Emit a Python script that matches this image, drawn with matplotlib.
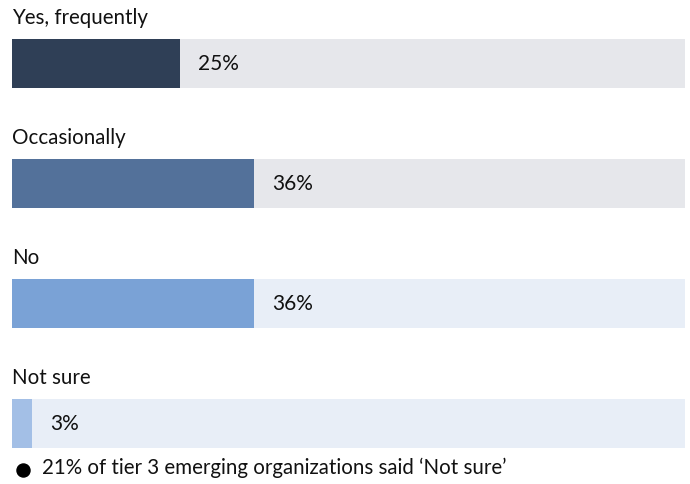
import matplotlib.pyplot as plt

plt.rcParams['font.family'] = ['Lato', 'DejaVu Sans']

categories = ['Yes, frequently', 'Occasionally', 'No', 'Not sure']
values = [25, 36, 36, 3]
value_labels = ['25%', '36%', '36%', '3%']
note = '21% of tier 3 emerging organizations said \u2018Not sure\u2019'

bar_colors = ['#2f3f56', '#53719a', '#7aa2d6', '#a3bfe6']
track_colors = ['#e6e7eb', '#e6e7eb', '#e8eef7', '#e8eef7']

W, H = 690, 484
fig = plt.figure(figsize=(W / 100, H / 100), dpi=100)
# axes spans the bar area horizontally, full height vertically (y in pixels)
ax = fig.add_axes([12 / W, 0, (685 - 12) / W, 1])
ax.set_xlim(0, 100)
ax.set_ylim(H, 0)
ax.axis('off')

centers = [63.5, 183.5, 303.5, 423.5]
bar_h = 49

for i, (cat, v) in enumerate(zip(categories, values)):
    y = centers[i]
    ax.barh(y, 100, height=bar_h, color=track_colors[i], left=0)
    ax.barh(y, v, height=bar_h, color=bar_colors[i], left=0)
    ax.text(0, y - 45, cat, fontsize=14.8, color='#111111', va='center', ha='left')
    ax.annotate(value_labels[i], (v, y), xytext=(13, 0), textcoords='offset points',
                fontsize=15, color='#111111', va='center', ha='left')

# footnote with bullet
fig.add_artist(plt.Line2D([22.5 / W], [1 - 470 / H], marker='o', markersize=9.4,
                          color='#000000', linestyle='none'))
fig.text(42 / W, 1 - 468 / H, note, fontsize=14.8, color='#111111', va='center', ha='left')

fig.savefig('out.png', dpi=100)
